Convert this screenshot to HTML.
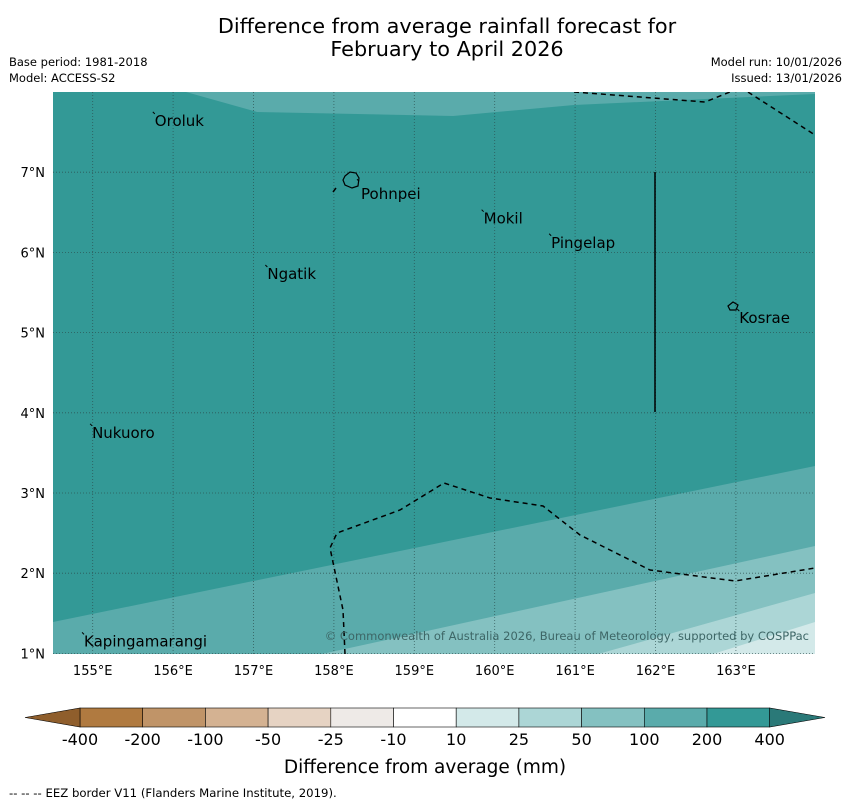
<!DOCTYPE html>
<html><head><meta charset="utf-8">
<style>
body{margin:0;background:#fff;width:850px;height:804px;overflow:hidden;font-family:"DejaVu Sans","Liberation Sans",sans-serif;}
svg text{font-family:"DejaVu Sans","Liberation Sans",sans-serif;}
</style></head>
<body>
<svg id="chart" width="850" height="804" xmlns="http://www.w3.org/2000/svg">
<text x="447" y="33" font-size="20.8" text-anchor="middle">Difference from average rainfall forecast for</text>
<text x="447" y="56" font-size="20.8" text-anchor="middle">February to April 2026</text>
<text x="9" y="66" font-size="11.5">Base period: 1981-2018</text>
<text x="9" y="82" font-size="11.5">Model: ACCESS-S2</text>
<text x="842" y="66" font-size="11.5" text-anchor="end">Model run: 10/01/2026</text>
<text x="842" y="82" font-size="11.5" text-anchor="end">Issued: 13/01/2026</text>
<g id="map">
<clipPath id="mc"><rect x="53" y="92" width="762" height="562"/></clipPath>
<g clip-path="url(#mc)">
<rect x="53" y="92" width="762" height="562" fill="#339996"/>
<path d="M186,92 L257,112 L453,116 L574,105 L815,94 L815,92 Z" fill="#5aabab"/>
<path d="M53,622 L815,466 L815,654 L53,654 Z" fill="#5aabab"/>
<path d="M322,654 L815,546 L815,654 Z" fill="#84c1c1"/>
<path d="M598,654 L815,593 L815,654 Z" fill="#acd6d6"/>
<path d="M713,654 L815,622 L815,654 Z" fill="#d3e9e9"/>
<g id="grid" stroke="#2a4a4a" stroke-width="0.8" stroke-dasharray="1,2" opacity="0.8"></g>
<g fill="none" stroke="#000" stroke-width="1.5" stroke-dasharray="5,4">
<path d="M574,92 L705,102 L730,92"/>
<path d="M748,92 L815,135"/>
<path d="M345,654 L343,610 L330,548 L337,533 L400,510 L444,483 L490,498 L543,506 L580,535 L650,570 L735,581 L815,568"/>
<path d="M333,192 L336,188"/>
</g>
<line x1="655" y1="172" x2="655" y2="412" stroke="#000" stroke-width="1.5"/>
<path d="M345,176 L350,172 L356,173 L359,178 L358,186 L352,188 L345,185 L343,180 Z" fill="none" stroke="#000" stroke-width="1.2"/>
<path d="M728,306 L733,302 L738,305 L736,310 L730,310 Z" fill="none" stroke="#000" stroke-width="1.2"/>
<g id="places"></g>
<text x="809" y="640" font-size="11.5" text-anchor="end" fill="#3d6666">© Commonwealth of Australia 2026, Bureau of Meteorology, supported by COSPPac</text>
</g>
<g id="ticks"></g>
</g>
<g id="cbar"></g>
<text x="425" y="773" font-size="18.5" text-anchor="middle">Difference from average (mm)</text>
<text x="9" y="797" font-size="11.7">--  --  -- EEZ border V11 (Flanders Marine Institute, 2019).</text>
</svg>
<script>
const lonTicks=[155,156,157,158,159,160,161,162,163];
const latTicks=[1,2,3,4,5,6,7];
const placeNames=["Oroluk","Pohnpei","Mokil","Pingelap","Ngatik","Kosrae","Nukuoro","Kapingamarangi"];
const placeLon=[155.76,158.3,159.85,160.69,157.16,163.03,154.98,154.88];
const placeLat=[7.74,6.9,6.52,6.22,5.83,5.28,3.85,1.25];
const cbarLabels=["-400","-200","-100","-50","-25","-10","10","25","50","100","200","400"];
const cbarColors=["#b07a40","#c09468","#d4b292","#e6d3c3","#eeeae7","#ffffff","#d3e9e9","#acd6d6","#84c1c1","#5aabab","#339996"];
const ns="http://www.w3.org/2000/svg";
const x=lon=>52.5+(lon-154.5)*80.4;
const y=lat=>92+(8-lat)*80.2;
function mk(t,a,p){const e=document.createElementNS(ns,t);for(const k in a)e.setAttribute(k,a[k]);p.appendChild(e);return e;}
const grid=document.getElementById('grid'),ticks=document.getElementById('ticks');
lonTicks.forEach(l=>{
 const g=mk('line',{x1:x(l),x2:x(l),y1:92,y2:654},grid);
 
 
 const t=mk('text',{x:x(l),y:675,'font-size':13,'text-anchor':'middle'},ticks);t.textContent=l+'°E';
 
 
});
latTicks.forEach(l=>{
 const g=mk('line',{x1:53,x2:815,y1:y(l),y2:y(l)},grid);
 
 
 const t=mk('text',{x:45,y:y(l)+5,'font-size':13,'text-anchor':'end'},ticks);t.textContent=l+'°N';
 
 
});
const pl=document.getElementById('places');
placeNames.forEach((n,i)=>{
 const px=x(placeLon[i]),py=y(placeLat[i]);
 const dx=n==="Pohnpei"?3:1, dy=n==="Pohnpei"?19:13;
 const t=mk('text',{x:px+dx,y:py+dy,'font-size':15},pl);t.textContent=n;
 
 
 const m=mk('line',{x1:px-1,y1:py-1,x2:px+1,y2:py+1,stroke:'#000','stroke-width':1},pl);
 
 
});
const cb=document.getElementById('cbar');
const c0=80,cw=62.7,cy=708,ch=19;
cbarColors.forEach((c,i)=>{
 const r=mk('rect',{x:c0+i*cw,y:cy,width:cw,height:ch,fill:c,stroke:'#000','stroke-width':0.6},cb);
 
 
});
const ce=c0+cbarColors.length*cw;
const lt=mk('polygon',{points:`${c0},${cy} ${c0},${cy+ch} 25,${cy+ch/2}`,fill:'#8f5e2c',stroke:'#000','stroke-width':0.6},cb);


const rt=mk('polygon',{points:`${ce},${cy} ${ce},${cy+ch} 825,${cy+ch/2}`,fill:'#2a7978',stroke:'#000','stroke-width':0.6},cb);


cbarLabels.forEach((s,i)=>{
 const t=mk('text',{x:c0+i*cw,y:745,'font-size':16,'text-anchor':'middle'},cb);t.textContent=s;
 
 
});
</script>
</body></html>
